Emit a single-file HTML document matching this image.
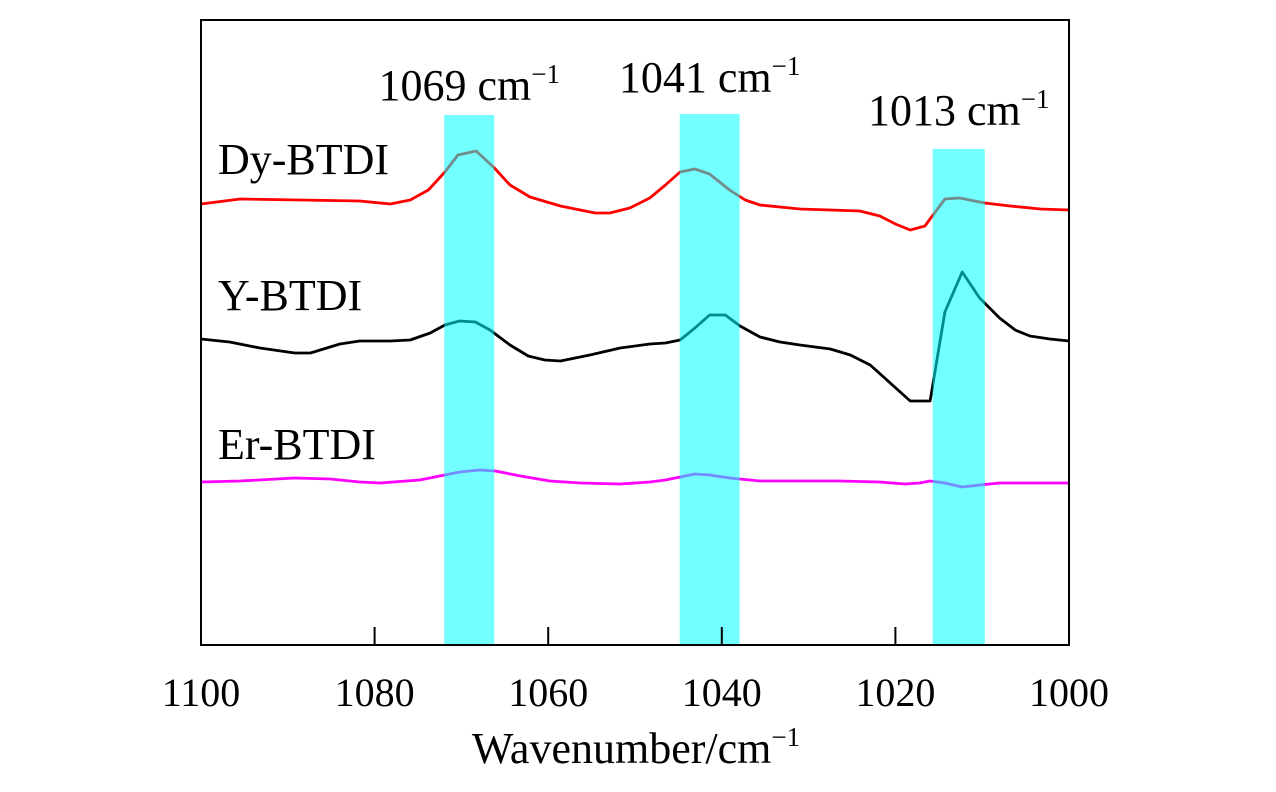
<!DOCTYPE html>
<html><head><meta charset="utf-8"><style>
body{margin:0;background:#fff;}
svg text{font-family:"Liberation Serif",serif;fill:#000;}
</style></head><body>
<svg id="chart" width="1276" height="787">
<g id="series"></g>
<g id="bands"></g>
<rect x="201" y="20" width="868" height="625" fill="none" stroke="#000" stroke-width="2"/>
<g id="axis"></g>
<text x="636" y="763" font-size="44" text-anchor="middle">Wavenumber/cm<tspan font-size="27" dy="-17">−1</tspan></text>
<text x="218" y="174" font-size="44">Dy-BTDI</text>
<text x="218" y="310" font-size="44">Y-BTDI</text>
<text x="218" y="459" font-size="44">Er-BTDI</text>
</svg>
<script>
const xTicks=[1100,1080,1060,1040,1020,1000];
const bandCenters=[1069.1,1041.4,1012.7];
const bandLabels=["1069 cm","1041 cm","1013 cm"];
const dyX=[1100,1095.5,1088.6,1081.7,1078.2,1075.9,1073.8,1071.9,1070.4,1068.3,1066.2,1064.4,1062.1,1058.6,1054.6,1052.9,1050.6,1048.3,1046.5,1044.8,1043.1,1041.4,1039.1,1037.3,1035.6,1031.0,1027.5,1024.1,1021.8,1020.0,1018.3,1016.6,1014.3,1012.6,1009.7,1006.8,1003.3,1000];
const dyY=[441,446,445,444,441,445,455,473,490,494,477,460,448,439,432,432,437,447,460,473,476,471,455,445,440,436,435,434,429,421,415,419,446,447,442,439,436,435];
const yX=[1100,1096.7,1093.2,1089.2,1087.4,1084.0,1081.7,1078.2,1075.9,1073.6,1071.9,1070.2,1068.4,1066.7,1064.4,1062.3,1060.4,1058.6,1055.2,1051.7,1048.3,1046.5,1044.8,1043.1,1041.4,1039.6,1037.9,1035.6,1033.3,1031.0,1027.5,1025.2,1022.9,1020.6,1018.3,1016.0,1014.3,1012.3,1010.3,1008.0,1006.2,1004.5,1002.2,1000];
const yY=[306,303,297,292,292,301,304,304,305,312,320,324,323,315,300,289,285,284,290,297,301,302,305,317,330,330,319,308,303,300,296,290,280,262,244,244,333,373,347,327,315,309,306,304];
const erX=[1100,1095.5,1089.2,1085.1,1081.7,1079.4,1074.8,1072.5,1070.2,1067.9,1066.1,1063.2,1059.8,1056.3,1051.7,1048.3,1046.5,1044.8,1043.1,1041.4,1039.1,1035.6,1031.0,1026.4,1021.8,1018.9,1017.2,1016.0,1014.3,1012.3,1010.3,1008.0,1000];
const erY=[163,164,167,166,163,162,165,169,173,175,174,169,164,162,161,163,165,168,171,170,167,164,164,164,163,161,162,164,162,158,160,162,162];

const NS="http://www.w3.org/2000/svg";
const X0=201,X1=1069,Y0=645,Y1=20;
const xs=w=>X0+(1100-w)/100*(X1-X0);
const ys=v=>Y0-v/625*(Y0-Y1);
function mk(t,a,p){const e=document.createElementNS(NS,t);for(const k in a)e.setAttribute(k,a[k]);p.appendChild(e);return e;}
const series=document.getElementById('series');
[[dyX,dyY,'#ff0000','line-dy-btdi'],[yX,yY,'#000000','line-y-btdi'],[erX,erY,'#ff00ff','line-er-btdi']].forEach(s=>{
  const d=s[0].map((w,i)=>(i?'L':'M')+xs(w).toFixed(1)+','+ys(s[1][i]).toFixed(1)).join('');
  const p=mk('path',{d:d,fill:'none',stroke:s[2],'stroke-width':2.8,'stroke-linejoin':'round'},series);
  
  
});
const bands=document.getElementById('bands');
const bandWidths=[5.76,6.9,6.0];
const bandTops=[115,114,149];
const labelY=[100,92,125];
bandCenters.forEach((c,i)=>{
  const hw=bandWidths[i]/2;
  const r=mk('rect',{x:xs(c+hw),y:bandTops[i],width:xs(c-hw)-xs(c+hw),height:Y0-bandTops[i],fill:'rgba(0,255,255,0.55)'},bands);
  
  
  const t=mk('text',{x:xs(c),y:labelY[i],'font-size':44,'text-anchor':'middle'},bands);
  
  
  t.textContent=bandLabels[i];
  const s=mk('tspan',{'font-size':27,dy:-17},t);s.textContent='−1';
});
const axis=document.getElementById('axis');
xTicks.forEach(v=>{
  const l=mk('line',{x1:xs(v),x2:xs(v),y1:Y0,y2:Y0-18,stroke:'#000','stroke-width':2},axis);
  
  
  const t=mk('text',{x:xs(v),y:706,'font-size':40,'text-anchor':'middle'},axis);
  
  
  t.textContent=v;
});
</script>
</body></html>
